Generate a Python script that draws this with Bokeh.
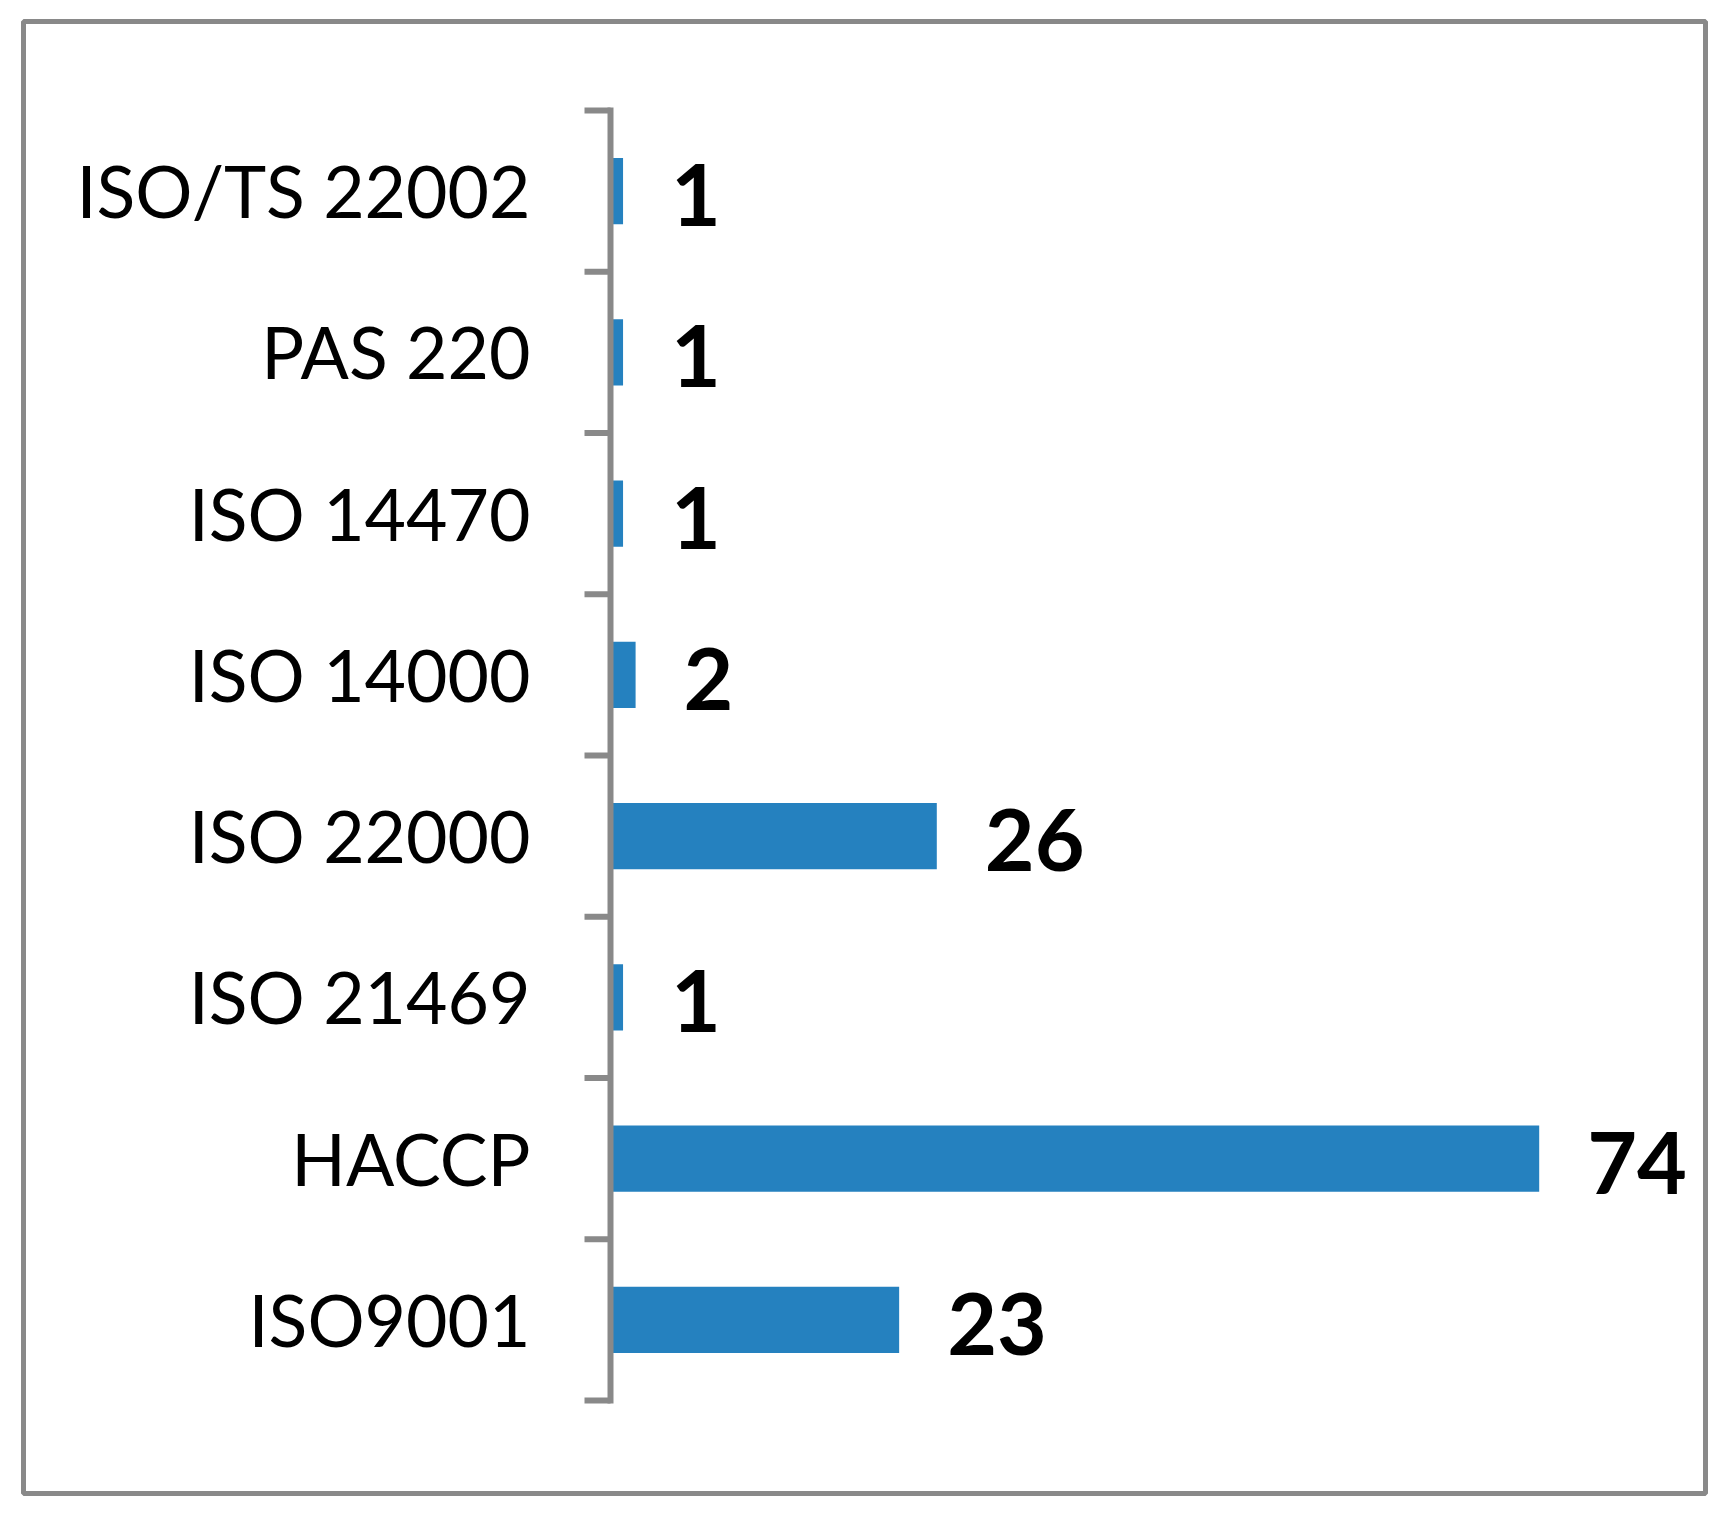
from bokeh.plotting import figure
from bokeh.models import ColumnDataSource, Range1d
from bokeh.core.properties import value
from bokeh.embed import file_html
from bokeh.resources import INLINE

# Data (top to bottom as in the chart)
categories = ["ISO/TS 22002", "PAS 220", "ISO 14470", "ISO 14000",
              "ISO 22000", "ISO 21469", "HACCP", "ISO9001"]
counts = [1, 1, 1, 2, 26, 1, 74, 23]

n = len(categories)
ypos = [n - 1 - i + 0.5 for i in range(n)]
src = ColumnDataSource(dict(cat=categories, val=counts, y=ypos,
                            lab=[str(v) for v in counts]))

# Layout constants (pixels, in canvas coordinates)
frame_left, frame_right = 23, 1705
frame_top, frame_bottom = 21, 1493
zero_px = 610
px_per_unit = 12.55
axis_bottom_px, cat_px = 1400, 161.25

x_start = (frame_left - zero_px) / px_per_unit
x_end = (frame_right - zero_px) / px_per_unit
y_end = (axis_bottom_px - frame_top) / cat_px
y_start = -(frame_bottom - axis_bottom_px) / cat_px

W = frame_right - frame_left
H = frame_bottom - frame_top

p = figure(width=W + frame_left + 10, height=H + frame_top + 10,
           x_range=Range1d(x_start, x_end), y_range=Range1d(y_start, y_end),
           output_backend="svg", toolbar_location=None,
           min_border_left=frame_left, min_border_top=frame_top,
           min_border_right=10, min_border_bottom=10)
p.axis.visible = False
p.grid.visible = False
p.outline_line_color = "#898989"
p.outline_line_width = 5
p.background_fill_color = "white"
p.border_fill_color = "white"

grey = "#898989"
blue = "#2581BF"

# bars
p.hbar(y="y", left=0, right="val", height=0.41, source=src,
       fill_color=blue, line_color=None)

# axis line and ticks between categories
bounds = list(range(n + 1))
tick_len = 26 / px_per_unit
p.segment(x0=[-tick_len] * len(bounds), x1=[0] * len(bounds),
          y0=bounds, y1=bounds, line_color=grey, line_width=6)
p.segment(x0=[0], x1=[0], y0=[0], y1=[n], line_color=grey, line_width=6,
          line_cap="square")

# category labels
p.text(x=0, y="y", text="cat", source=src, x_offset=-80, y_offset=-1,
       text_align="right", text_baseline="middle",
       text_font=value("Lato"), text_font_size="71.5px", text_color="black")

# value labels
p.text(x="val", y="y", text="lab", source=src, x_offset=48, y_offset=4,
       text_align="left", text_baseline="middle",
       text_font=value("Lato"), text_font_style="bold",
       text_font_size="86px", text_color="black")

open("out.html", "w").write(file_html(p, INLINE))
